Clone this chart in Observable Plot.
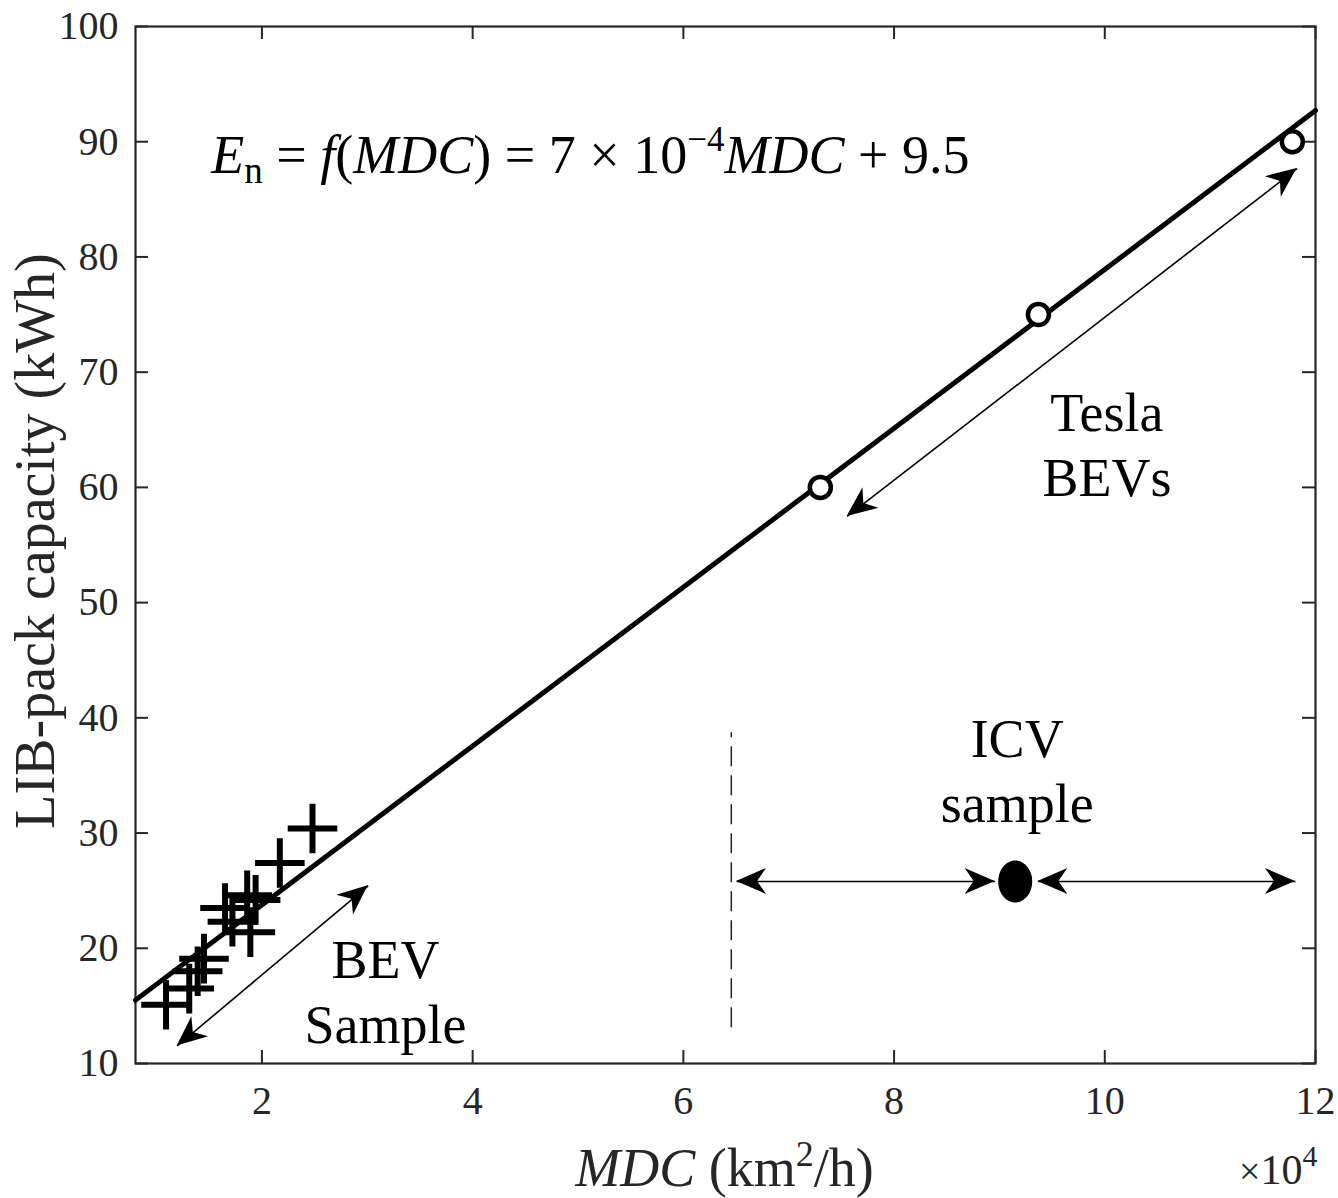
<!DOCTYPE html>
<html>
<head>
<meta charset="utf-8">
<script src="https://cdn.jsdelivr.net/npm/d3@7"></script>
<script src="https://cdn.jsdelivr.net/npm/@observablehq/plot@0.6"></script>
<style>
  html, body { margin: 0; padding: 0; background: #fff; }
</style>
</head>
<body>
<div id="chart"></div>
<script>
// ---------- data ----------
const xTicks = [2, 4, 6, 8, 10, 12];
const yTicks = [10, 20, 30, 40, 50, 60, 70, 80, 90, 100];

// BEV sample (MDC in 10^4 km^2/h, capacity kWh)
const bevX = [2.48, 2.17, 1.86, 1.94, 1.65, 1.72, 1.89, 1.45, 1.39, 1.31, 1.09];
const bevY = [30.4, 27.4, 24.6, 24.2, 23.5, 22.3, 21.4, 19.1, 18.0, 16.5, 15.1];

// Tesla BEVs
const teslaX = [7.3, 9.37, 11.78];
const teslaY = [60, 75, 90];

// ICV sample
const icvX = [9.15];
const icvY = [25.8];

// fitted line  E_n = 7e-4 * MDC + 9.5 (read at the frame edges)
const fitX = [0.8, 12];
const fitY = [15.5, 92.7];

// double-headed annotation arrows
const arrowX1 = [7.555, 1.196, 6.505, 9.365];
const arrowY1 = [57.48, 11.52, 25.8, 25.8];
const arrowX2 = [11.825, 3.008, 8.959, 11.81];
const arrowY2 = [87.67, 25.42, 25.8, 25.8];

// dashed divider
const dashX = [6.455];
const dashY1 = [13.1];
const dashY2 = [38.7];

// annotation texts
const noteText = ["Tesla\nBEVs", "ICV\nsample", "BEV\nSample"];
const noteX = [10.02, 9.168, 3.172];
const noteY = [63.86, 35.6, 16.42];

const equationText = "E_n = f(MDC) = 7 × 10^−4 MDC + 9.5";
const xLabelText = "MDC (km^2/h)";
const yLabelText = "LIB-pack capacity (kWh)";
const expText = "×10^4";

// ---------- helpers ----------
const AX = "#262626";
const FONT = "'Liberation Serif', 'Times New Roman', serif";
const tickLenY = 13 / 11.53;   // inward tick length in y units (~13px)
const tickLenX = 13 / 105.4;   // inward tick length in x units (~13px)

const ellipseSymbol = {
  draw(ctx, size) {
    const r = Math.sqrt(size / Math.PI);
    const rx = r * 0.81, ry = r, k = 0.5523;
    ctx.moveTo(rx, 0);
    ctx.bezierCurveTo(rx, k * ry, k * rx, ry, 0, ry);
    ctx.bezierCurveTo(-k * rx, ry, -rx, k * ry, -rx, 0);
    ctx.bezierCurveTo(-rx, -k * ry, -k * rx, -ry, 0, -ry);
    ctx.bezierCurveTo(k * rx, -ry, rx, -k * ry, rx, 0);
    ctx.closePath();
  }
};

function arrowHeads(index, scales) {
  const ns = "http://www.w3.org/2000/svg";
  const g = document.createElementNS(ns, "g");
  const L = 30, W = 13, N = 21;
  for (let i = 0; i < arrowX1.length; i++) {
    const p1 = [scales.x(arrowX1[i]), scales.y(arrowY1[i])];
    const p2 = [scales.x(arrowX2[i]), scales.y(arrowY2[i])];
    for (const [tip, from] of [[p2, p1], [p1, p2]]) {
      const dx = tip[0] - from[0], dy = tip[1] - from[1];
      const len = Math.hypot(dx, dy);
      const ux = dx / len, uy = dy / len, nx = -uy, ny = ux;
      const pts = [
        tip,
        [tip[0] - L * ux + W * nx, tip[1] - L * uy + W * ny],
        [tip[0] - N * ux, tip[1] - N * uy],
        [tip[0] - L * ux - W * nx, tip[1] - L * uy - W * ny]
      ];
      const path = document.createElementNS(ns, "path");
      path.setAttribute("d", "M" + pts.map(p => p[0].toFixed(2) + "," + p[1].toFixed(2)).join("L") + "Z");
      path.setAttribute("fill", "black");
      g.appendChild(path);
    }
  }
  return g;
}

const bev = bevX.map((x, i) => ({x, y: bevY[i]}));
const tesla = teslaX.map((x, i) => ({x, y: teslaY[i]}));
const icv = icvX.map((x, i) => ({x, y: icvY[i]}));
const fit = fitX.map((x, i) => ({x, y: fitY[i]}));
const arrows = arrowX1.map((x1, i) => ({x1, y1: arrowY1[i], x2: arrowX2[i], y2: arrowY2[i]}));
const notes = noteText.map((t, i) => ({t, x: noteX[i], y: noteY[i]}));

const chart = Plot.plot({
  width: 1338,
  height: 1198,
  marginLeft: 135,
  marginRight: 23,
  marginTop: 26,
  marginBottom: 135,
  style: {fontFamily: FONT, fontSize: "40px", color: AX, background: "white"},
  x: {domain: [0.8, 12], label: null},
  y: {domain: [10, 100], label: null},
  marks: [
    // axes tick labels
    Plot.axisX(xTicks, {tickSize: 0, tickPadding: 22, fontSize: 40, fill: AX, tickFormat: d => String(d), label: null}),
    Plot.axisY(yTicks, {tickSize: 0, tickPadding: 17, fontSize: 40, fill: AX, tickFormat: d => String(d), label: null}),
    // inward ticks on all four sides
    Plot.ruleX(xTicks, {y1: 10, y2: 10 + tickLenY, stroke: AX, strokeWidth: 2}),
    Plot.ruleX(xTicks, {y1: 100 - tickLenY, y2: 100, stroke: AX, strokeWidth: 2}),
    Plot.ruleY(yTicks, {x1: 0.8, x2: 0.8 + tickLenX, stroke: AX, strokeWidth: 2}),
    Plot.ruleY(yTicks, {x1: 12 - tickLenX, x2: 12, stroke: AX, strokeWidth: 2}),
    Plot.frame({stroke: AX, strokeWidth: 2.2}),

    // dashed divider
    Plot.ruleX(dashX, {x: d => d, y1: () => dashY1[0], y2: () => dashY2[0], stroke: "#222", strokeWidth: 1.5, strokeDasharray: "20,9"}),

    // arrows (shafts + heads)
    Plot.link(arrows, {x1: "x1", y1: "y1", x2: "x2", y2: "y2", stroke: "black", strokeWidth: 1.6}),
    arrowHeads,

    // data
    Plot.dot(bev, {x: "x", y: "y", symbol: "plus", r: 16, stroke: "black", strokeWidth: 6}),
    Plot.line(fit, {x: "x", y: "y", stroke: "black", strokeWidth: 5}),
    Plot.dot(tesla, {x: "x", y: "y", r: 10.5, stroke: "black", strokeWidth: 4.5, fill: "white"}),
    Plot.dot(icv, {x: "x", y: "y", r: 21, symbol: ellipseSymbol, fill: "black", stroke: "none"}),

    // annotation texts
    Plot.text(notes, {x: "x", y: "y", text: "t", fontSize: 54, lineHeight: 1.2, fill: "black"}),
    Plot.text([equationText], {x: () => 1.52, y: () => 87.32, text: d => d, textAnchor: "start", lineAnchor: "bottom", fontSize: 54, fill: "black"}),

    // axis labels
    Plot.text([yLabelText], {frameAnchor: "left", textAnchor: "middle", dx: -99, dy: -4, rotate: -90, text: d => d, fontSize: 56, fill: AX}),
    Plot.text([xLabelText], {frameAnchor: "bottom", textAnchor: "middle", dx: -1, dy: 122, lineAnchor: "bottom", text: d => d, fontSize: 54, fill: AX}),
    Plot.text([expText], {frameAnchor: "bottom-right", textAnchor: "end", dx: 2, dy: 120, lineAnchor: "bottom", text: d => d, fontSize: 42, fill: AX})
  ]
});

// rich text (italics, sub/superscripts)
const rich = {
  [equationText]:
    '<tspan font-style="italic">E</tspan><tspan font-size="37" dy="10">n</tspan>' +
    '<tspan dy="-10"> = </tspan><tspan font-style="italic">f</tspan>(<tspan font-style="italic">MDC</tspan>) = 7 × 10' +
    '<tspan font-size="35" dy="-22">−4</tspan><tspan dy="22" font-style="italic">MDC</tspan> + 9.5',
  [xLabelText]:
    '<tspan font-style="italic">MDC</tspan> (km<tspan font-size="36" dy="-20">2</tspan><tspan dy="20">/h)</tspan>',
  [expText]:
    '<tspan font-size="38">×</tspan>10<tspan font-size="30" dy="-18">4</tspan>'
};
chart.querySelectorAll("text").forEach(t => {
  const k = t.textContent;
  if (rich[k] !== undefined && t.children.length === 0) t.innerHTML = rich[k];
});

document.getElementById("chart").appendChild(chart);
</script>
</body>
</html>
